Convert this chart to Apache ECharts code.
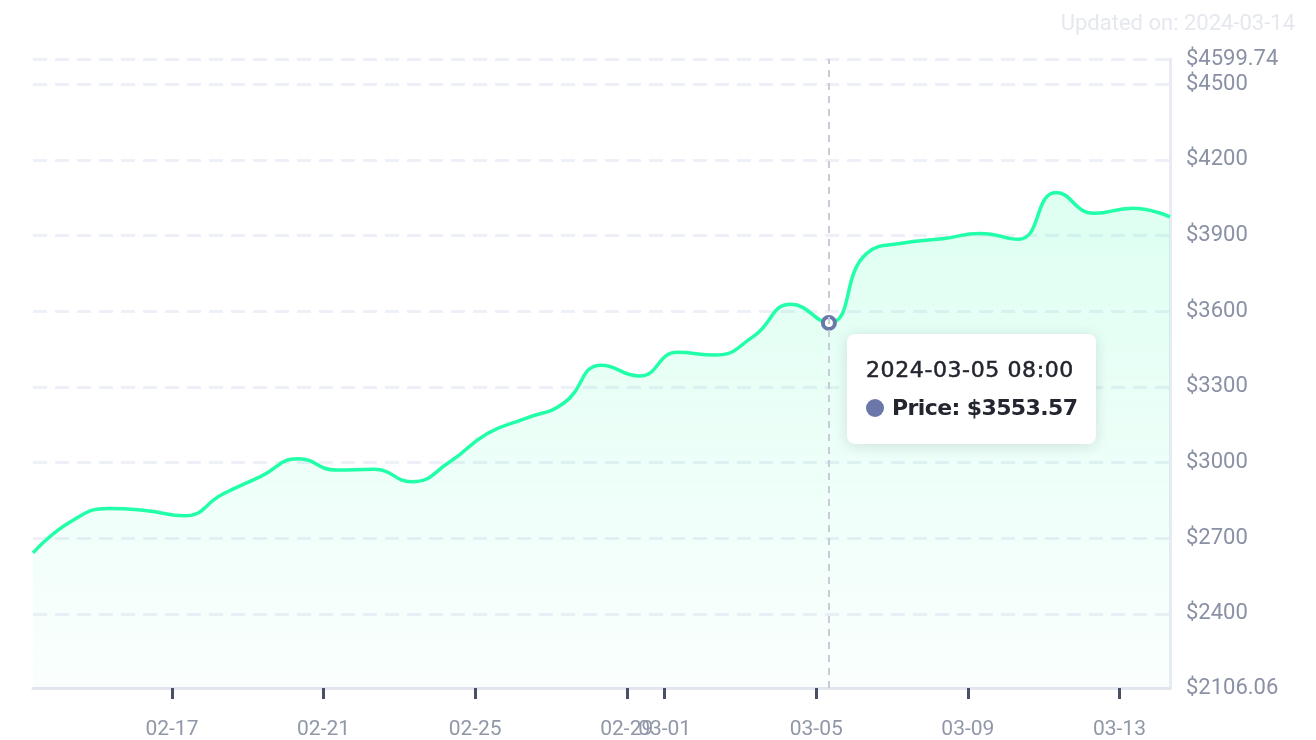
<!DOCTYPE html>
<html>
<head>
<meta charset="utf-8">
<script src="https://cdn.jsdelivr.net/npm/echarts@6/dist/echarts.min.js"></script>
<style>
html,body{margin:0;padding:0;background:#fff;}
#chart{width:1316px;height:740px;}
</style>
</head>
<body>
<div id="chart"></div>
<script>
const dates = [
  '2024-02-13 08:00','2024-02-14 08:00','2024-02-15 08:00','2024-02-16 08:00','2024-02-17 08:00',
  '2024-02-18 08:00','2024-02-19 08:00','2024-02-20 08:00','2024-02-21 08:00','2024-02-22 08:00',
  '2024-02-23 08:00','2024-02-24 08:00','2024-02-25 08:00','2024-02-26 08:00','2024-02-27 08:00',
  '2024-02-28 08:00','2024-02-29 08:00','2024-03-01 08:00','2024-03-02 08:00','2024-03-03 08:00',
  '2024-03-04 08:00','2024-03-05 08:00','2024-03-06 08:00','2024-03-07 08:00','2024-03-08 08:00',
  '2024-03-09 08:00','2024-03-10 08:00','2024-03-11 08:00','2024-03-12 08:00','2024-03-13 08:00',
  '2024-03-14 08:00'
];
const prices = [
  2642, 2766, 2818, 2809, 2789,
  2874, 2944, 3015, 2970, 2973,
  2924, 3003, 3116, 3175, 3235,
  3386, 3343, 3437, 3426, 3499,
  3627, 3553.57, 3829, 3871, 3887,
  3908, 3885, 4070, 3988, 4008,
  3974
];
const yMin = 2106.06;
const yMax = 4599.74;
const yTicks = [2106.06, 2400, 2700, 3000, 3300, 3600, 3900, 4200, 4500, 4599.74];
const updatedText = 'Updated on: 2024-03-14';
const seriesName = 'Price';
const tipIndex = 21;

const chart = echarts.init(document.getElementById('chart'), null, {renderer: 'canvas'});
const data = dates.map((d, i) => [d, prices[i]]);

const option = {
  animation: false,
  title: {
    text: updatedText,
    right: 16,
    top: 8,
    textStyle: {color: '#E6E8EF', fontSize: 22, fontWeight: 'normal', fontFamily: 'Roboto'}
  },
  grid: {left: 33, right: 146, top: 59, bottom: 52},
  tooltip: {
    trigger: 'axis',
    triggerOn: 'none',
    alwaysShowContent: true,
    position: [847, 334],
    backgroundColor: '#fff',
    borderWidth: 0,
    padding: [17, 19, 17, 19],
    extraCssText: 'box-shadow:0 2px 14px rgba(30,40,60,0.14);border-radius:8px;',
    axisPointer: {
      type: 'line',
      lineStyle: {color: '#C9CBD6', type: [7, 6], width: 2}
    },
    formatter: function (params) {
      const p = params[0];
      const t = echarts.time.format(p.value[0], '{yyyy}-{MM}-{dd} {HH}:{mm}', false);
      return '<div style="font-family:\'DejaVu Sans\';color:#23252F;">' +
        '<div style="font-size:22px;line-height:38px;letter-spacing:0.6px;-webkit-text-stroke:0.5px #23252F;">' + t + '</div>' +
        '<div style="font-size:22px;line-height:38px;font-weight:bold;letter-spacing:-0.6px;">' +
        '<span style="display:inline-block;width:18px;height:18px;border-radius:9px;background:#6B77A8;margin-right:8px;vertical-align:-2px;"></span>' +
        p.seriesName + ': $' + p.value[1] + '</div></div>';
    }
  },
  xAxis: {
    type: 'time',
    min: dates[0],
    max: dates[dates.length - 1],
    boundaryGap: false,
    axisLine: {show: true, lineStyle: {color: '#E3E6EF', width: 3}},
    axisTick: {show: true, length: 11, lineStyle: {color: '#4A4F63', width: 3}},
    axisLabel: {
      formatter: '{MM}-{dd}',
      color: '#9097A8',
      fontSize: 21,
      fontFamily: 'Roboto',
      margin: 31,
      hideOverlap: false,
      showMinLabel: false,
      showMaxLabel: false
    },
    splitLine: {show: false}
  },
  yAxis: {
    type: 'value',
    position: 'right',
    min: yMin,
    max: yMax,
    axisLine: {show: true, lineStyle: {color: '#E8EBF3', width: 3}},
    axisTick: {show: false, customValues: yTicks},
    axisLabel: {
      customValues: yTicks,
      formatter: v => '$' + v,
      color: '#8A91A5',
      fontSize: 22,
      fontFamily: 'Roboto',
      margin: 16
    },
    splitLine: {show: true, lineStyle: {color: '#EEF0F8', type: [14, 8], width: 3}}
  },
  series: [{
    name: seriesName,
    type: 'line',
    data: data,
    smooth: true,
    showSymbol: false,
    symbol: 'emptyCircle',
    symbolSize: 12,
    itemStyle: {color: '#6B77A8', borderWidth: 4},
    lineStyle: {color: '#1FEE9A', width: 3.5},
    emphasis: {scale: false, lineStyle: {width: 3.5}, itemStyle: {borderWidth: 4}},
    areaStyle: {
      color: new echarts.graphic.LinearGradient(0, 0, 0, 1, [
        {offset: 0, color: 'rgba(32,238,154,0.22)'},
        {offset: 1, color: 'rgba(32,238,154,0.03)'}
      ])
    }
  }]
};
chart.setOption(option);
chart.dispatchAction({type: 'showTip', seriesIndex: 0, dataIndex: tipIndex});
</script>
</body>
</html>
